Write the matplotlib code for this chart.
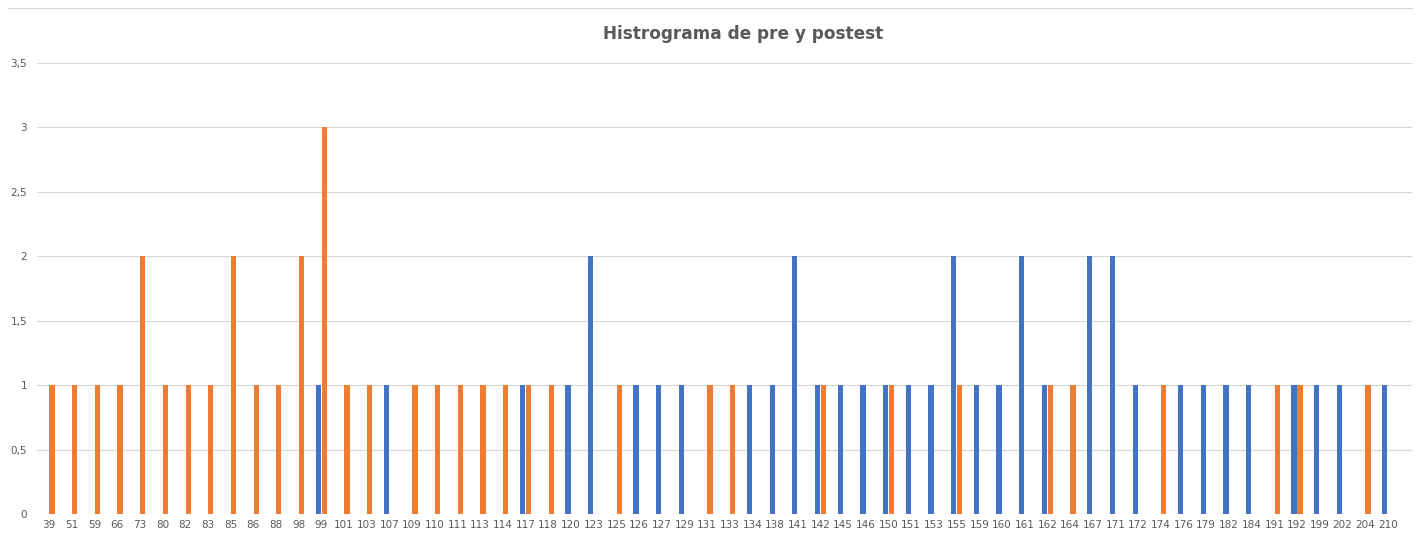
import numpy as np
import matplotlib.pyplot as plt
from matplotlib.lines import Line2D

# categorias (puntajes) y frecuencias de cada serie
puntajes = ["39", "51", "59", "66", "73", "80", "82", "83", "85", "86",
            "88", "98", "99", "101", "103", "107", "109", "110", "111", "113",
            "114", "117", "118", "120", "123", "125", "126", "127", "129", "131",
            "133", "134", "138", "141", "142", "145", "146", "150", "151", "153",
            "155", "159", "160", "161", "162", "164", "167", "171", "172", "174",
            "176", "179", "182", "184", "191", "192", "199", "202", "204", "210"]

serie_azul = [0, 0, 0, 0, 0, 0, 0, 0, 0, 0,
              0, 0, 1, 0, 0, 1, 0, 0, 0, 0,
              0, 1, 0, 1, 2, 0, 1, 1, 1, 0,
              0, 1, 1, 2, 1, 1, 1, 1, 1, 1,
              2, 1, 1, 2, 1, 0, 2, 2, 1, 0,
              1, 1, 1, 1, 0, 1, 1, 1, 0, 1]

serie_naranja = [1, 1, 1, 1, 2, 1, 1, 1, 2, 1,
                 1, 2, 3, 1, 1, 0, 1, 1, 1, 1,
                 1, 1, 1, 0, 0, 1, 0, 0, 0, 1,
                 1, 0, 0, 0, 1, 0, 0, 1, 0, 0,
                 1, 0, 0, 0, 1, 1, 0, 0, 0, 1,
                 0, 0, 0, 0, 1, 1, 0, 0, 1, 0]

y_ticks = [0, 0.5, 1, 1.5, 2, 2.5, 3, 3.5]
y_labels = ["0", "0,5", "1", "1,5", "2", "2,5", "3", "3,5"]

gris = "#595959"
W, H = 1418, 535

fig = plt.figure(figsize=(W / 100, H / 100), dpi=100)
ax = fig.add_axes([37 / W, (H - 514) / H, (1412 - 37) / W, (514 - 63) / H])

x = np.arange(len(puntajes))
ancho = 0.23
ax.bar(x - 0.13, serie_azul, ancho, color="#4472C4", zorder=3)
ax.bar(x + 0.13, serie_naranja, ancho, color="#ED7D31", zorder=3)

ax.set_xlim(-0.53, 60.07)
ax.set_ylim(0, 3.5)
ax.set_yticks(y_ticks)
ax.set_yticklabels(y_labels)
ax.set_xticks(x)
ax.set_xticklabels(puntajes)
ax.tick_params(length=0, labelsize=7.5, colors=gris)
ax.tick_params(axis="y", pad=7)
ax.tick_params(axis="x", pad=4)
ax.grid(axis="y", color="#D9D9D9", linewidth=0.9, zorder=0)
for s in ax.spines.values():
    s.set_visible(False)

# borde superior del grafico
fig.add_artist(Line2D([8 / W, 1412 / W], [(H - 8) / H, (H - 8) / H],
                      color="#D9D9D9", linewidth=0.9))

fig.text(743 / W, (H - 34) / H, "Histrograma de pre y postest", ha="center",
         va="center", fontsize=12.2, fontweight="bold", color=gris)

fig.savefig("out.png", dpi=100)
